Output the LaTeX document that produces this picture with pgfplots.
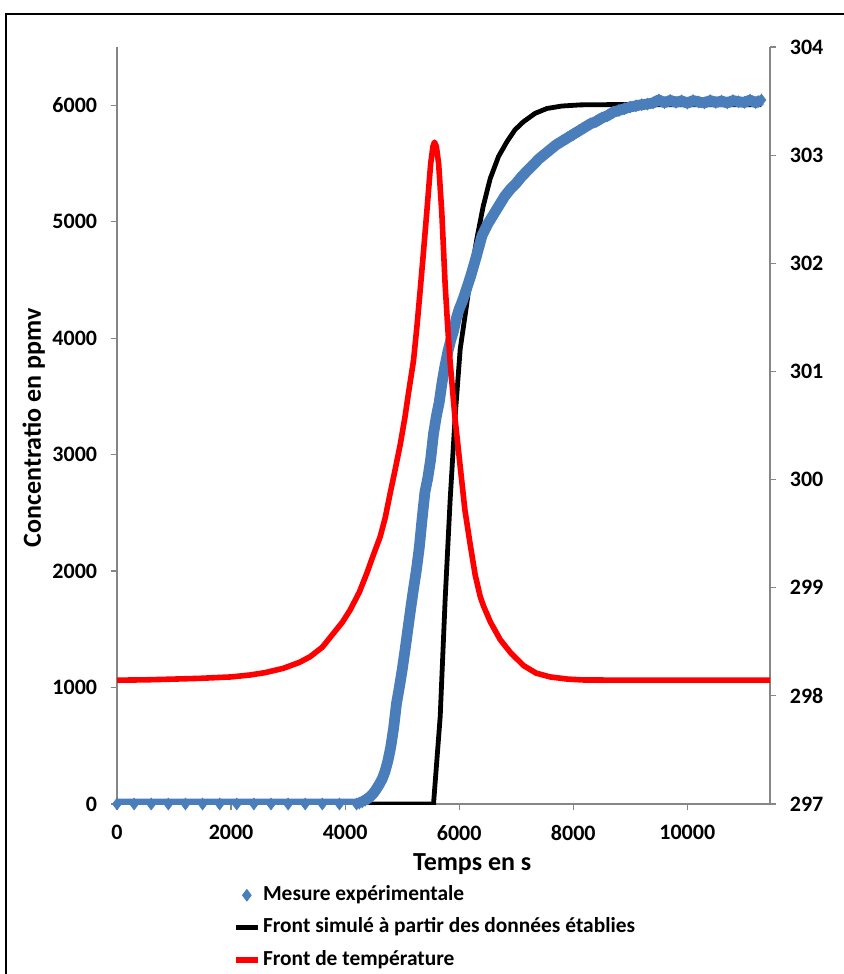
\documentclass[border=0pt]{standalone}
\usepackage{fontspec}
\setmainfont{Carlito}
\usepackage{pgfplots}
\pgfplotsset{compat=1.18}
\definecolor{bl}{HTML}{4A7EBB}
\definecolor{axc}{HTML}{868686}
\pgfplotstableread{
t c
0 0
300 0
600 0
900 0
1200 0
1500 0
1800 0
2100 0
2400 0
2700 0
3000 0
3300 0
3600 0
3900 0
4200 0
4250 8
4300 18
4350 32
4400 48
4450 68
4500 95
4550 130
4600 170
4650 215
4700 280
4750 370
4800 490
4850 650
4900 860
4950 1000
5000 1150
5050 1320
5100 1500
5150 1680
5200 1850
5250 2010
5300 2200
5350 2450
5400 2680
5450 2800
5500 2960
5550 3180
5600 3330
5650 3450
5700 3620
5750 3760
5800 3880
5850 3980
5900 4060
5950 4170
6000 4250
6050 4310
6100 4380
6200 4530
6300 4700
6400 4880
6500 4980
6600 5060
6700 5140
6800 5220
6900 5280
7000 5330
7100 5390
7200 5440
7300 5490
7400 5540
7500 5580
7600 5620
7700 5660
7800 5690
7900 5720
8000 5750
8100 5780
8200 5810
8300 5840
8400 5860
8500 5890
8600 5910
8700 5940
8800 5955
8900 5970
9000 5985
9100 5995
9200 6005
9300 6010
9400 6020
9500 6045
9600 6022
9700 6042
9800 6025
9900 6038
10000 6018
10100 6040
10200 6028
10300 6020
10400 6040
10500 6024
10600 6036
10700 6020
10800 6040
10900 6030
11000 6024
11100 6044
11200 6022
11300 6045
}\blue
\pgfplotstableread{
t c
0 0
5550 0
5667 750
5754 1756
5842 2616
5930 3333
6018 3907
6120 4250
6193 4509
6310 4854
6420 5130
6544 5370
6690 5560
6836 5686
6980 5790
7126 5858
7330 5930
7539 5972
7800 5993
8123 6003
8600 6005
11300 6005
}\black
\pgfplotstableread{
t T
0 298.145
500 298.148
1000 298.155
1456 298.162
2000 298.175
2333 298.193
2600 298.215
2918 298.255
3200 298.31
3386 298.362
3600 298.45
3795 298.578
3950 298.68
4088 298.794
4250 298.96
4380 299.133
4500 299.31
4614 299.47
4700 299.64
4789 299.87
4880 300.10
4965 300.32
5050 300.58
5111 300.80
5199 301.10
5260 301.42
5316 301.75
5370 302.08
5433 302.48
5500 302.92
5540 303.08
5567 303.12
5600 303.08
5640 302.92
5696 302.46
5754 301.80
5800 301.40
5842 301.08
5930 300.55
6018 300.12
6100 299.72
6193 299.40
6280 299.12
6368 298.92
6427 298.83
6550 298.68
6719 298.52
6900 298.40
7129 298.28
7350 298.21
7596 298.175
7900 298.155
8175 298.147
9000 298.145
10000 298.145
11450 298.145
}\temp
\pgfplotsset{common/.style={
  width=326.5pt, height=378.5pt, scale only axis,
  at={(0,0)}, anchor=south west,
  xmin=0, xmax=11450,
  tick align=outside, major tick length=3pt,
  tick style={axc, line width=0.6pt},
  axis line style={axc, line width=0.6pt},
  scaled x ticks=false, scaled y ticks=false,
  /pgf/number format/assume math mode=true,
  /pgf/number format/1000 sep={},
  tick label style={font=\fontsize{11}{13}\selectfont\bfseries},
}}
\begin{document}
\begin{tikzpicture}
\begin{axis}[common,
  ymin=0, ymax=6500,
  ytick={0,1000,...,6000}, xtick={0,2000,...,10000},
  axis y line*=left, axis x line*=bottom,
  yticklabel style={anchor=east, inner sep=0pt, xshift=-6.75pt},
  xticklabel style={anchor=north, inner sep=0pt, yshift=-7.5pt},
  xlabel={Temps en s}, ylabel={Concentratio en ppmv},
  every axis x label/.style={at={(axis description cs:0.544,-0.0885)}, anchor=base, font=\fontsize{13}{15}\selectfont\bfseries},
  every axis y label/.style={at={(axis description cs:-0.1164,0.497)}, rotate=90, anchor=base, font=\fontsize{13}{15}\selectfont\bfseries},
  legend cell align=left,
  legend image code/.code={\draw[mark repeat=2,mark phase=2,#1] plot coordinates {(0pt,0pt) (5.5pt,0pt) (11pt,0pt)};},
  legend style={draw=none, fill=none, at={(axis description cs:0.1777,-0.106)}, anchor=north west,
    inner sep=0pt, outer sep=0pt, row sep=5.25pt, column sep=1.2pt,
    font=\fontsize{10.7}{12}\selectfont\bfseries,
    nodes={inner sep=0pt, text height=8pt, text depth=3pt}},
]
\addplot[black, line width=2.4pt, forget plot] table[x=t, y=c] {\black};
\addplot[bl, line width=5.4pt, line join=round, forget plot] table[x=t, y=c] {\blue};
\addplot[bl, only marks, mark=diamond*, mark size=2.9pt, mark options={draw=bl, fill=bl}] table[x=t, y=c] {\blue};
\addlegendentry{Mesure expérimentale}
\addlegendimage{black, line width=2.4pt}
\addlegendentry{Front simulé à partir des données établies}
\addlegendimage{red, line width=2.8pt}
\addlegendentry{Front de température}
\end{axis}
\begin{axis}[common,
  ymin=297, ymax=304, ytick={297,298,...,304},
  axis y line*=right, axis x line=none,
  yticklabel style={anchor=west, inner sep=0pt, xshift=6.75pt},
]
\addplot[red, line width=2.8pt, line join=round] table[x=t, y=T] {\temp};
\end{axis}
\pgfresetboundingbox
\path[use as bounding box] (-58.5pt,-85pt) rectangle (363.5pt,402pt);
\draw[line width=1.25pt] (-55.4pt,-95pt) -- (-55.4pt,395.1pt) -- (375pt,395.1pt);
\end{tikzpicture}
\end{document}
